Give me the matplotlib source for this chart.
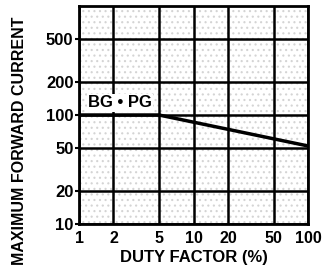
import numpy as np
import matplotlib
matplotlib.use('Agg')
import matplotlib.pyplot as plt

## derating curve: max forward current vs duty factor
duty = [1, 5, 100]
current = [100, 100, 52]

xticks = [1, 2, 5, 10, 20, 50, 100]
yticks = [10, 20, 50, 100, 200, 500]

plt.rcParams['font.family'] = ['Liberation Sans', 'DejaVu Sans']
plt.rcParams['font.weight'] = 'bold'
plt.rcParams['hatch.linewidth'] = 0.8

fig = plt.figure(figsize=(3.28, 2.75), dpi=100)
ax = fig.add_axes([79/328, 1 - 224/275, 229/328, 218/275])

ax.set_xscale('log')
ax.set_yscale('log')
ax.set_xlim(1, 100)
ax.set_ylim(10, 1000)

# stippled paper look
ax.patch.set_hatch('...')
ax.patch.set_edgecolor('#d4d4d4')

ax.set_xticks(xticks)
ax.set_xticklabels([str(v) for v in xticks])
ax.set_yticks(yticks)
ax.set_yticklabels([str(v) for v in yticks])
ax.minorticks_off()
ax.tick_params(axis='y', labelsize=12, width=1.5, length=3, pad=1)
ax.tick_params(axis='x', labelsize=11.5, length=0, pad=5)

ax.grid(True, color='black', linewidth=1.8)
for s in ax.spines.values():
    s.set_linewidth(2)

ax.plot(duty, current, color='black', linewidth=2.5, zorder=3)

ax.text(1.2, 100 * 1.1, 'BG \u2022 PG', fontsize=12, ha='left', va='bottom',
        bbox=dict(facecolor='white', edgecolor='none', pad=1), zorder=4)

ax.set_xlabel('DUTY FACTOR (%)', fontsize=12, fontweight='bold', labelpad=3)
fig.text(20/328, 1 - 141/275, 'MAXIMUM FORWARD CURRENT', rotation=90, fontsize=11.5,
         fontweight='bold', ha='center', va='center')

fig.savefig('out.png', dpi=100)
